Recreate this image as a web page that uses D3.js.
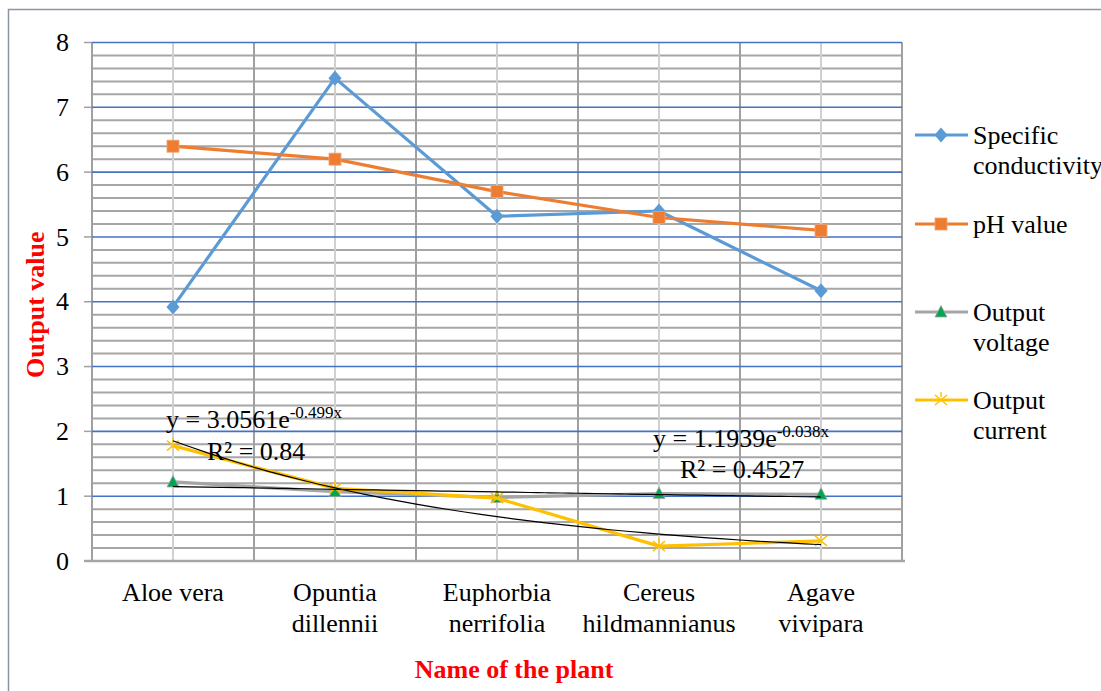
<!DOCTYPE html>
<html>
<head>
<meta charset="utf-8">
<script src="https://cdn.jsdelivr.net/npm/d3@7"></script>
<style>
  body { margin: 0; background: #fff; }
  text { font-family: "Liberation Serif", "Times New Roman", serif; }
</style>
</head>
<body>
<script>
const plants = [["Aloe vera"], ["Opuntia", "dillennii"], ["Euphorbia", "nerrifolia"], ["Cereus", "hildmannianus"], ["Agave", "vivipara"]];
const conductivity = [3.92, 7.45, 5.32, 5.40, 4.17];
const phValue = [6.4, 6.2, 5.7, 5.3, 5.1];
const outVoltage = [1.22, 1.07, 0.98, 1.04, 1.03];
const outCurrent = [1.78, 1.12, 0.97, 0.23, 0.31];
const yTicks = [0, 1, 2, 3, 4, 5, 6, 7, 8];
// exponential trendlines as printed on the chart: y = a * e^(b x)
const currentTrend = { a: 3.0561, b: -0.499, r2: "0.84" };
const voltageTrend = { a: 1.1939, b: -0.038, r2: "0.4527" };

const width = 1101, height = 691;
const plotLeft = 92, plotRight = 902, plotTop = 42.5, plotBottom = 561;
const fs = 26;

const svg = d3.select("body").append("svg")
  .attr("width", width)
  .attr("height", height);

// chart frame
svg.append("path")
  .attr("d", `M8.5,${height} V9.5 H${width}`)
  .attr("fill", "none")
  .attr("stroke", "#8a94a6")
  .attr("stroke-width", 1.5);

const x = d3.scaleBand().domain(d3.range(plants.length)).range([plotLeft, plotRight]);
const xc = i => x(i) + x.bandwidth() / 2;
const y = d3.scaleLinear().domain([0, 8]).range([plotBottom, plotTop]);

const grid = svg.append("g");

// minor horizontal grid every 0.2
const minor = d3.range(0, 8.0001, 0.2).filter(v => Math.abs(v - Math.round(v)) > 0.01);
grid.selectAll("line.minor").data(minor).join("line")
  .attr("x1", plotLeft).attr("x2", plotRight)
  .attr("y1", d => y(d)).attr("y2", d => y(d))
  .attr("stroke", "#a6a6a6").attr("stroke-width", 2);

// vertical grid: light at centers, darker at boundaries
grid.selectAll("line.vc").data(d3.range(plants.length)).join("line")
  .attr("x1", d => xc(d)).attr("x2", d => xc(d))
  .attr("y1", plotTop).attr("y2", plotBottom)
  .attr("stroke", "#d0d0d0").attr("stroke-width", 2);
grid.selectAll("line.vb").data(d3.range(plants.length + 1)).join("line")
  .attr("x1", d => plotLeft + d * x.bandwidth()).attr("x2", d => plotLeft + d * x.bandwidth())
  .attr("y1", plotTop).attr("y2", plotBottom)
  .attr("stroke", "#a0a0a0").attr("stroke-width", 2);

// major horizontal grid
grid.selectAll("line.major").data(yTicks.filter(d => d > 0)).join("line")
  .attr("x1", plotLeft).attr("x2", plotRight)
  .attr("y1", d => y(d)).attr("y2", d => y(d))
  .attr("stroke", "#4472c4").attr("stroke-width", 1.6);

// y axis
grid.selectAll("line.tick").data(yTicks).join("line")
  .attr("x1", plotLeft - 8).attr("x2", plotLeft)
  .attr("y1", d => y(d)).attr("y2", d => y(d))
  .attr("stroke", "#a0a0a0").attr("stroke-width", 1.5);
grid.append("line")
  .attr("x1", plotLeft - 8).attr("x2", plotRight + 3)
  .attr("y1", plotBottom).attr("y2", plotBottom)
  .attr("stroke", "#a6a6a6").attr("stroke-width", 2.5);

svg.selectAll("text.ytick").data(yTicks).join("text")
  .attr("x", 69).attr("y", d => y(d))
  .attr("dy", "0.33em")
  .attr("text-anchor", "end")
  .attr("font-size", fs)
  .text(d => d);

// category labels
const xl = svg.selectAll("text.xlab").data(plants).join("text")
  .attr("x", (d, i) => xc(i))
  .attr("y", 601)
  .attr("text-anchor", "middle")
  .attr("font-size", fs);
xl.selectAll("tspan").data(d => d).join("tspan")
  .attr("x", function() { return this.parentNode.getAttribute("x"); })
  .attr("dy", (d, i) => i === 0 ? 0 : 31)
  .text(d => d);

// axis titles
svg.append("text")
  .attr("transform", `translate(44,${(plotTop + plotBottom) / 2 + 3}) rotate(-90)`)
  .attr("text-anchor", "middle")
  .attr("font-size", fs).attr("font-weight", "bold")
  .attr("fill", "#ff0000")
  .text("Output value");
svg.append("text")
  .attr("x", 514).attr("y", 678)
  .attr("text-anchor", "middle")
  .attr("font-size", fs).attr("font-weight", "bold")
  .attr("fill", "#ff0000")
  .text("Name of the plant");

const series = [
  { name: ["Specific", "conductivity"], values: conductivity, color: "#5b9bd5", marker: "diamond", ly: 135 },
  { name: ["pH value"], values: phValue, color: "#ed7d31", marker: "square", ly: 224 },
  { name: ["Output", "voltage"], values: outVoltage, color: "#a5a5a5", marker: "triangle", ly: 312 },
  { name: ["Output", "current"], values: outCurrent, color: "#ffc000", marker: "cross", ly: 400 }
];

const line = d3.line().x((d, i) => xc(i)).y(d => y(d));

function drawMarker(g, type, color) {
  if (type === "diamond") {
    g.append("path").attr("d", d3.symbol(d3.symbolDiamond2, 110)()).attr("fill", color).attr("transform", "scale(1,1.15)");
  } else if (type === "square") {
    g.append("rect").attr("x", -6).attr("y", -6).attr("width", 12).attr("height", 12)
      .attr("fill", color).attr("stroke", "#f4a070").attr("stroke-width", 0.8);
  } else if (type === "triangle") {
    g.append("path").attr("d", "M0,-6.5 L6,5 L-6,5 Z")
      .attr("fill", "#00a651").attr("stroke", "#a5a5a5").attr("stroke-width", 0.8);
  } else {
    g.append("path").attr("d", "M-6,-5 L6,5 M-6,5 L6,-5 M0,-8 V-3")
      .attr("stroke", color).attr("stroke-width", 1.4).attr("fill", "none");
  }
}

series.forEach(s => {
  svg.append("path")
    .attr("d", line(s.values))
    .attr("fill", "none")
    .attr("stroke", s.color)
    .attr("stroke-width", 3.2)
    .attr("stroke-linejoin", "round");
  s.values.forEach((v, i) => {
    const g = svg.append("g").attr("transform", `translate(${xc(i)},${y(v)})`);
    drawMarker(g, s.marker, s.color);
  });
  // legend
  svg.append("line")
    .attr("x1", 915).attr("x2", 968)
    .attr("y1", s.ly).attr("y2", s.ly)
    .attr("stroke", s.color).attr("stroke-width", 3.2);
  drawMarker(svg.append("g").attr("transform", `translate(941,${s.ly})`), s.marker, s.color);
  const t = svg.append("text").attr("x", 973).attr("y", s.ly + 8.5).attr("font-size", fs);
  t.selectAll("tspan").data(s.name).join("tspan")
    .attr("x", 973).attr("dy", (d, i) => i === 0 ? 0 : 30)
    .text(d => d);
});

// trendlines (exponential fit, x = 1..5)
const tx = d3.scaleLinear().domain([1, plants.length]).range([xc(0), xc(plants.length - 1)]);
const trendLine = d3.line().x(d => tx(d.x)).y(d => y(d.y)).curve(d3.curveBasis);
[currentTrend, voltageTrend].forEach(tr => {
  const pts = d3.range(1, plants.length + 0.001, 0.1).map(v => ({ x: v, y: tr.a * Math.exp(tr.b * v) }));
  svg.append("path")
    .attr("d", trendLine(pts))
    .attr("fill", "none")
    .attr("stroke", "#000")
    .attr("stroke-width", 1.2);
});

function trendLabel(tr, xPos, yPos, rx, ry) {
  const t = svg.append("text").attr("x", xPos).attr("y", yPos).attr("font-size", fs);
  t.append("tspan").text(`y = ${tr.a}e`);
  t.append("tspan").attr("font-size", 17).attr("dy", -10).text(`${tr.b}x`);
  svg.append("text").attr("x", rx).attr("y", ry).attr("font-size", fs).text(`R² = ${tr.r2}`);
}
trendLabel(currentTrend, 166, 428, 207, 460);
trendLabel(voltageTrend, 653, 447, 680, 478);
</script>
</body>
</html>
